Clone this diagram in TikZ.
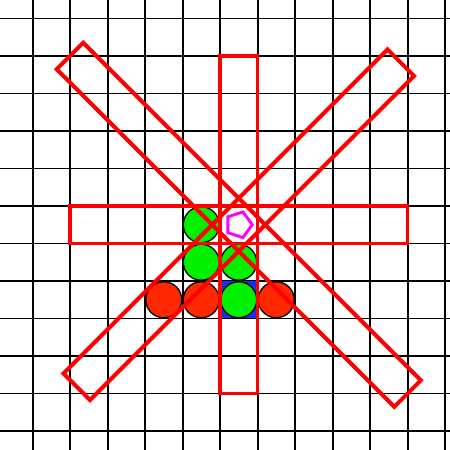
\documentclass[tikz,border=0pt]{standalone}
\usepackage{tikz}
\usetikzlibrary{shapes.geometric}
\definecolor{stonegreen}{RGB}{0,240,0}
\definecolor{stonered}{RGB}{255,40,0}
\definecolor{cellblue}{RGB}{20,50,240}
\definecolor{rayred}{RGB}{255,0,0}
\definecolor{markmagenta}{RGB}{255,0,255}

\begin{document}
\begin{tikzpicture}[
    board/.style={line width=1.5pt, black},
    stone/.style={circle, draw=black, line width=1pt, minimum size=0.96cm, inner sep=0pt},
    gstone/.style={stone, fill=stonegreen},
    rstone/.style={stone, fill=stonered},
    ray/.style={rectangle, draw=rayred, line width=3pt, inner sep=0pt},
    marker/.style={regular polygon, regular polygon sides=5, shape border rotate=-90, draw=markmagenta, line width=2.2pt, minimum size=0.72cm, inner sep=0pt}
]
% Page and board grid
\fill[white] (-0.867,-11.507) rectangle (11.133,0.493);
\useasboundingbox (-0.867,-11.507) rectangle (11.133,0.493);
\foreach \i in {0,...,11} {
    \draw[board] (\i,0.493) -- (\i,-11.507);
    \draw[board] (-0.867,-\i) -- (11.133,-\i);
}

% Highlighted cell
\node[rectangle, fill=cellblue, minimum size=1cm, inner sep=0pt] (hl) at (5.5,-7.5) {};

% Stones
\node[gstone] (g1) at (4.5,-5.5) {};
\node[gstone] (g2) at (4.5,-6.5) {};
\node[gstone] (g3) at (5.5,-6.5) {};
\node[gstone] (g4) at (5.5,-7.5) {};
\node[rstone] (r1) at (3.5,-7.5) {};
\node[rstone] (r2) at (4.5,-7.5) {};
\node[rstone] (r3) at (6.5,-7.5) {};

% Rays through the marked cell
\node[ray, minimum width=1cm, minimum height=9cm] (rv) at (5.5,-5.5) {};
\node[ray, minimum width=9cm, minimum height=1cm] (rh) at (5.5,-5.5) {};
\node[ray, minimum width=1cm, minimum height=12.73cm, rotate=45] (rd) at (5.5,-5.5) {};
\node[ray, minimum width=1cm, minimum height=12.22cm, rotate=-45] (ra) at (5.5,-5.5) {};

% Marked cell
\node[marker] (mk) at (5.5,-5.5) {};

\end{tikzpicture}
\end{document}
